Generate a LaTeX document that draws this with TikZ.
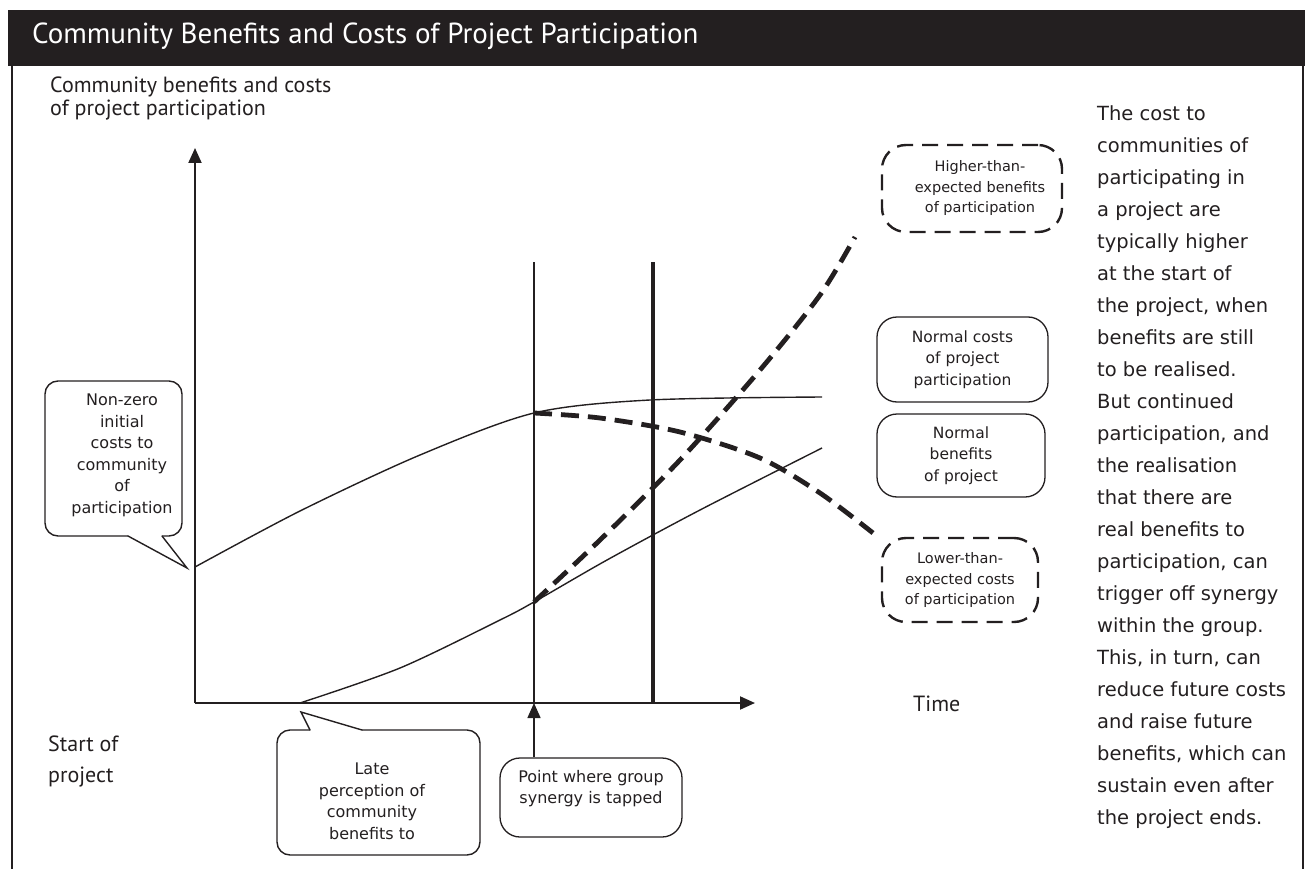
\documentclass[tikz,border=0pt]{standalone}
\usepackage{fontspec}
\setmainfont{DejaVu Sans}
\newfontfamily\myriad{PT Sans}
\usepackage{xcolor}
\usepackage{tikz}
\usetikzlibrary{arrows.meta}

\definecolor{ink}{RGB}{35,31,32}

\tikzset{
  axis/.style={ink, line width=2pt, -{Triangle[length=15pt,width=13pt]}},
  pointer/.style={ink, line width=1.5pt, -{Triangle[length=15pt,width=13pt]}},
  curve/.style={ink, line width=1.4pt},
  bigdash/.style={ink, line width=4.8pt, dash pattern=on 18pt off 9pt},
  normalbox/.style={draw=ink, line width=1.3pt, rounded corners=20pt, align=center,
    font=\fontsize{15.5}{21.5}\selectfont, inner sep=0pt},
  dashbox/.style={draw=ink, line width=2.4pt, dash pattern=on 16pt off 9pt, rounded corners=24pt,
    align=center, font=\fontsize{14.5}{20.5}\selectfont, inner sep=0pt},
  bubble/.style={draw=ink, line width=1.4pt, rounded corners=13pt},
  tail/.style={draw=ink, line width=1.4pt, line cap=round},
  callout/.style={align=center, font=\fontsize{16}{21.5}\selectfont, inner sep=0pt},
}

\begin{document}
\begin{tikzpicture}[x=1pt, y=-1pt, text=ink]
\useasboundingbox (0,0) rectangle (1306,869);

% Title bar and frame
\fill[ink] (8,10) rectangle (1305,66);
\draw[ink, line width=2.5pt] (12,66) -- (12,869);
\draw[ink, line width=2.5pt] (1303,66) -- (1303,869);
\node[anchor=base west, white, inner sep=0pt, font=\myriad\fontsize{29}{30}\selectfont] (title) at (32,44)
  {Community Benefits and Costs of Project Participation};

% Axes
\coordinate (origin) at (195,703);
\coordinate (ytop) at (195,148);
\coordinate (xend) at (755,703);
\draw[axis] (origin) -- (ytop);
\draw[axis] (origin) -- (xend);
\node[anchor=north west, align=left, inner sep=0pt, font=\myriad\fontsize{22}{22.5}\selectfont] (ylabel) at (50,77)
  {Community benefits and costs\\of project participation};
\node[anchor=north west, align=left, inner sep=0pt, font=\myriad\fontsize{22}{31}\selectfont] (start) at (48,736)
  {Start of\\project};
\node[anchor=base west, inner sep=0pt, font=\myriad\fontsize{22}{24}\selectfont] (time) at (913,711) {Time};

% Synergy markers
\draw[ink, line width=1.4pt] (534,262) -- (534,703);
\draw[ink, line width=4.5pt] (653,262) -- (653,703);

% Normal costs and benefits
\draw[curve] plot[smooth] coordinates {(195,567) (300,511) (420,455) (534,413) (650,400) (822,397)};
\draw[curve] plot[smooth] coordinates {(300,703) (400,668) (500,620) (534,602) (607,560) (700,510) (822,448)};

% Higher benefits / lower costs
\draw[bigdash] plot[smooth] coordinates {(534,602) (600,540) (680,460) (760,370) (820,295) (855,237)};
\draw[bigdash] plot[smooth] coordinates {(534,413) (600,418) (680,432) (760,458) (820,493) (873,533)};

% Boxes
\node[normalbox, minimum width=171pt, minimum height=85pt] (ncost) at (962.5,359.5)
  {Normal costs\\of project\\participation};
\node[normalbox, minimum width=168pt, minimum height=83pt] (nbenefit) at (961,455.5)
  {Normal\\benefits\\of project};
\node[dashbox, minimum width=180pt, minimum height=87pt] (hbenefit) at (972,188.5)
  {\hspace*{16pt}Higher-than-\\\hspace*{16pt}expected benefits\\\hspace*{16pt}of participation};
\node[dashbox, minimum width=156pt, minimum height=84pt] (lcost) at (960,580)
  {Lower-than-\\expected costs\\of participation};

% Callouts
\draw[bubble] (128,536) -- (45,536) -- (45,381) -- (182,381) -- (182,536) -- (162,536);
\draw[tail] (128,536) -- (187,568) -- (162,536);
\node[callout, anchor=north] (nonzero) at (122,394)
  {Non-zero\\initial\\costs to\\community\\of\\participation};
\draw[bubble] (310,730) -- (277,730) -- (277,855) -- (480,855) -- (480,730) -- (362,730);
\draw[tail] (310,730) -- (301,712) -- (362,730);
\node[callout, anchor=north] (late) at (372,763)
  {Late\\perception of\\community\\benefits to};
\node[normalbox, font=\fontsize{16}{21.5}\selectfont, minimum width=182pt, minimum height=79pt] (synergy) at (591,797.5)
  {Point where group\\synergy is tapped\\\mbox{}};
\coordinate (tap) at (534,703);
\draw[pointer] (synergy.north -| tap) -- (tap);

% Side text
\node[anchor=north west, align=left, inner sep=0pt, font=\fontsize{19.5}{32}\selectfont] (note) at (1097,105)
  {The cost to\\communities of\\participating in\\a project are\\typically higher\\at the start of\\the project, when\\benefits are still\\to be realised.\\But continued\\participation, and\\the realisation\\that there are\\real benefits to\\participation, can\\trigger off synergy\\within the group.\\This, in turn, can\\reduce future costs\\and raise future\\benefits, which can\\sustain even after\\the project ends.};
\end{tikzpicture}
\end{document}
